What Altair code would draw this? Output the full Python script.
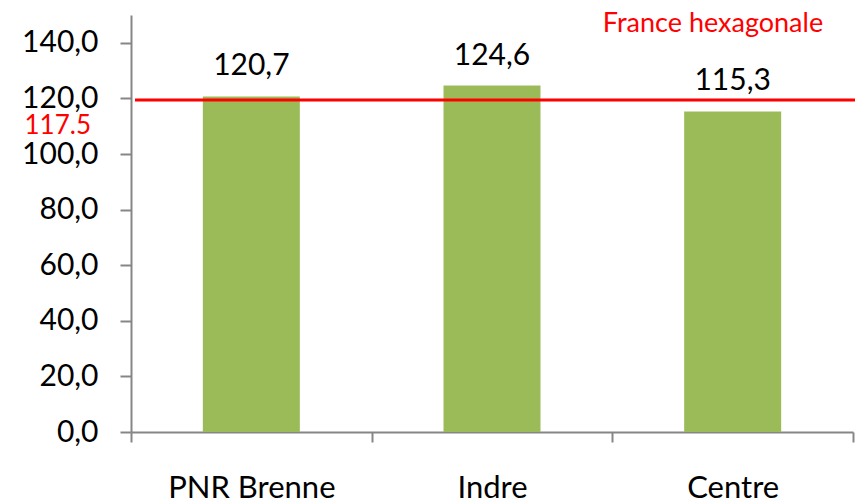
import altair as alt
import pandas as pd

categories = ["PNR Brenne", "Indre", "Centre"]
values = [120.7, 124.6, 115.3]
ref_label = "117.5"
ref_level = 119.4  # height at which the reference line is drawn in the picture
ref_title = "France hexagonale"
y_ticks = [0, 20, 40, 60, 80, 100, 120, 140]

df = pd.DataFrame({"cat": categories, "val": values})
ref_df = pd.DataFrame({"level": [ref_level], "label": [ref_label], "title": [ref_title]})

FONT = "Lato"
GRAY = "#868686"
GREEN = "#9BBB59"
RED = "#FF0000"

yscale = alt.Scale(domain=[0, 150], nice=False, zero=True)
xscale = alt.Scale(paddingInner=0, paddingOuter=0)

x_enc = alt.X(
    "cat:N", sort=categories, scale=xscale, title=None,
    axis=alt.Axis(
        labelAngle=0, tickBand="extent", domainColor=GRAY, domainWidth=2,
        tickColor=GRAY, tickWidth=2, tickSize=10, labelFont=FONT,
        labelFontSize=31, labelColor="black", labelPadding=55,
        labelBaseline="alphabetic", grid=False,
    ),
)

bars = alt.Chart(df).mark_bar(size=97, color=GREEN).encode(
    x=x_enc,
    y=alt.Y(
        "val:Q", scale=yscale, title=None,
        axis=alt.Axis(
            values=y_ticks, domainColor=GRAY, domainWidth=2, tickColor=GRAY,
            tickWidth=2, tickSize=11, labelPadding=22, labelFont=FONT,
            labelFontSize=30, labelColor="black", grid=False,
            labelExpr="replace(format(datum.value, '.1f'), '.', ',')",
        ),
    ),
)

labels = alt.Chart(df).transform_calculate(
    lbl="replace(format(datum.val, '.1f'), '.', ',')"
).mark_text(
    font=FONT, fontSize=30, color="black", baseline="alphabetic", dy=-21
).encode(
    x=alt.X("cat:N", sort=categories, scale=xscale),
    y=alt.Y("val:Q", scale=yscale),
    text="lbl:N",
)

rule = alt.Chart(ref_df).mark_rule(color=RED, strokeWidth=3).encode(
    y=alt.Y("level:Q", scale=yscale),
    x=alt.value(4),
    x2=alt.value(732),
)

ref_text = alt.Chart(ref_df).mark_text(
    font=FONT, fontSize=26, color=RED, align="right", baseline="middle", dy=26
).encode(
    y=alt.Y("level:Q", scale=yscale),
    x=alt.value(-40),
    text="label:N",
)

title_text = alt.Chart(ref_df).mark_text(
    font=FONT, fontSize=27, color=RED, align="center", baseline="middle", dy=-76
).encode(
    y=alt.Y("level:Q", scale=yscale),
    x=alt.value(582),
    text="title:N",
)

chart = alt.layer(bars, labels, rule, ref_text, title_text).properties(
    width=722,
    height=417,
    autosize=alt.AutoSizeParams(type="none"),
    padding={"left": 123, "top": 7, "right": 2, "bottom": 70},
    background="white",
).configure_view(stroke=None)

chart.save("out.html", embed_options={"renderer": "svg", "actions": False})
